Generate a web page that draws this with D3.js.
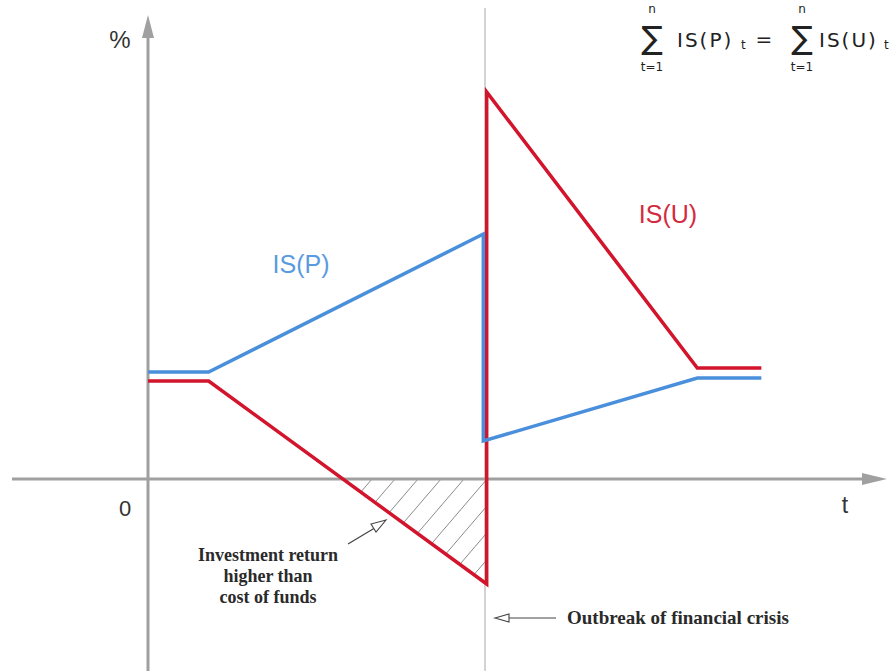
<!DOCTYPE html>
<html><head><meta charset="utf-8">
<script src="https://cdn.jsdelivr.net/npm/d3@7"></script>
<style>body{margin:0;background:#fff}svg{display:block}</style>
</head><body>
<script>
// ---- data ----
const ispT = [0, 1.8, 10, 10, 16.3, 18.2];
const ispV = [10.7, 10.7, 24.5, 3.8, 10.1, 10.1];
const isuT = [0, 1.8, 10, 10, 16.3, 18.2];
const isuV = [9.8, 9.8, -10.5, 38.7, 11.1, 11.1];
const crisisT = 10;
const labels = {p: "IS(P)", u: "IS(U)", y: "%", x: "t", zero: "0"};
const noteInvest = ["Investment return", "higher than", "cost of funds"];
const noteCrisis = "Outbreak of financial crisis";

const W = 891, H = 671;
const svg = d3.select("body").append("svg").attr("width", W).attr("height", H);
const x = d3.scaleLinear().domain([0, 10]).range([148, 485]);
const y = d3.scaleLinear().domain([0, 40]).range([479, 79]);

const axisCol = "#a0a0a0";
const red = "#d2142c", blue = "#4a8fdc";

const defs = svg.append("defs");

// crisis vertical line
svg.append("line").attr("x1", x(crisisT)).attr("x2", x(crisisT)).attr("y1", 8).attr("y2", H)
  .attr("stroke", "#c4c4c4").attr("stroke-width", 1.5);

// hatched area: between red line and zero from crossing to crisis
const i0 = 1, i1 = 2;
const tc = isuT[i0] + (0 - isuV[i0]) * (isuT[i1] - isuT[i0]) / (isuV[i1] - isuV[i0]);
const tri = [[x(tc), y(0)], [x(crisisT), y(0)], [x(isuT[i1]), y(isuV[i1])]];
defs.append("clipPath").attr("id","triclip").append("polygon").attr("points", tri.map(p=>p.join(",")).join(" "));
const hg = svg.append("g").attr("clip-path","url(#triclip)");
for (let k = -10; k < 20; k++) {
  const bx = 372 + k * 23;
  hg.append("line").attr("x1", bx).attr("y1", y(0)).attr("x2", bx - 120).attr("y2", y(0) + 140)
    .attr("stroke", "#8a8a8a").attr("stroke-width", 1);
}

// axes
svg.append("line").attr("x1", 12).attr("x2", 865).attr("y1", y(0)).attr("y2", y(0))
  .attr("stroke", axisCol).attr("stroke-width", 3);
svg.append("path").attr("d", `M887,${y(0)} L862,${y(0)-6} L862,${y(0)+6} Z`).attr("fill", axisCol);
svg.append("line").attr("x1", x(0)).attr("x2", x(0)).attr("y1", 36).attr("y2", H)
  .attr("stroke", axisCol).attr("stroke-width", 3);
svg.append("path").attr("d", `M${x(0)},15 L${x(0)-6},38 L${x(0)+6},38 Z`).attr("fill", axisCol);

// lines
const line = d3.line().x(d => x(d[0])).y(d => y(d[1]));
svg.append("path").datum(isuT.map((t,i)=>[t + (i===2||i===3?0.05:0), isuV[i]]))
  .attr("d", line).attr("fill","none").attr("stroke", red).attr("stroke-width", 3.5).attr("stroke-linejoin","miter");
svg.append("path").datum(ispT.map((t,i)=>[t - (i===2||i===3?0.05:0), ispV[i]]))
  .attr("d", line).attr("fill","none").attr("stroke", blue).attr("stroke-width", 3.5).attr("stroke-linejoin","miter");

// labels
const sans = "Arial, 'Liberation Sans', sans-serif";
svg.append("text").attr("x", 301).attr("y", 273).attr("text-anchor","middle").attr("font-family", sans)
  .attr("font-size", 25).attr("fill", "#5a9be0").text(labels.p);
svg.append("text").attr("x", 668).attr("y", 223).attr("text-anchor","middle").attr("font-family", sans)
  .attr("font-size", 25).attr("fill", "#d42a40").text(labels.u);
svg.append("text").attr("x", 120).attr("y", 48).attr("text-anchor","middle").attr("font-family", sans)
  .attr("font-size", 24).attr("fill", "#333").text(labels.y);
svg.append("text").attr("x", 845).attr("y", 513).attr("text-anchor","middle").attr("font-family", sans)
  .attr("font-size", 23).attr("fill", "#333").text(labels.x);
svg.append("text").attr("x", 125).attr("y", 516).attr("text-anchor","middle").attr("font-family", sans)
  .attr("font-size", 22).attr("fill", "#333").text(labels.zero);

// formula
const fg = svg.append("g").attr("font-family", "'DejaVu Sans', sans-serif").attr("fill", "#222");
function sigma(cx) {
  fg.append("text").attr("x", cx).attr("y", 13).attr("text-anchor","middle").attr("font-size", 12).text("n");
  fg.append("text").attr("x", cx).attr("y", 49).attr("text-anchor","middle").attr("font-size", 32).text("\u2211");
  fg.append("text").attr("x", cx).attr("y", 71).attr("text-anchor","middle").attr("font-size", 12).text("t=1");
}
sigma(652);
fg.append("text").attr("x", 677).attr("y", 47).attr("font-size", 20).attr("letter-spacing", 2).text("IS(P)");
fg.append("text").attr("x", 741).attr("y", 49).attr("font-size", 12).text("t");
fg.append("text").attr("x", 764).attr("y", 46).attr("text-anchor","middle").attr("font-size", 20).text("=");
sigma(802);
fg.append("text").attr("x", 819).attr("y", 47).attr("font-size", 20).attr("letter-spacing", 2).text("IS(U)");
fg.append("text").attr("x", 884).attr("y", 49).attr("font-size", 12).text("t");

// annotations
const serif = "'Liberation Serif', 'Times New Roman', serif";
const nt = svg.append("text").attr("font-family", serif).attr("font-weight","bold").attr("font-size", 18)
  .attr("fill", "#2a2a2a").attr("text-anchor","middle");
noteInvest.forEach((s,i)=> nt.append("tspan").attr("x", 268).attr("y", 561 + i*21).text(s));
svg.append("line").attr("x1", 348).attr("y1", 544).attr("x2", 378).attr("y2", 526)
  .attr("stroke", "#444").attr("stroke-width", 1.2);
svg.append("path").attr("d","M386,520 L371,524 L376,532 Z").attr("fill","#fff").attr("stroke","#444").attr("stroke-width",1.1);

svg.append("text").attr("x", 567).attr("y", 624).attr("font-family", serif).attr("font-weight","bold")
  .attr("font-size", 19).attr("fill", "#2a2a2a").text(noteCrisis);
svg.append("line").attr("x1", 506).attr("y1", 618).attr("x2", 556).attr("y2", 618).attr("stroke","#444").attr("stroke-width",1.2);
svg.append("path").attr("d","M495,618 L509,614 L509,622 Z").attr("fill","#fff").attr("stroke","#444").attr("stroke-width",1.1);
</script>
</body></html>
